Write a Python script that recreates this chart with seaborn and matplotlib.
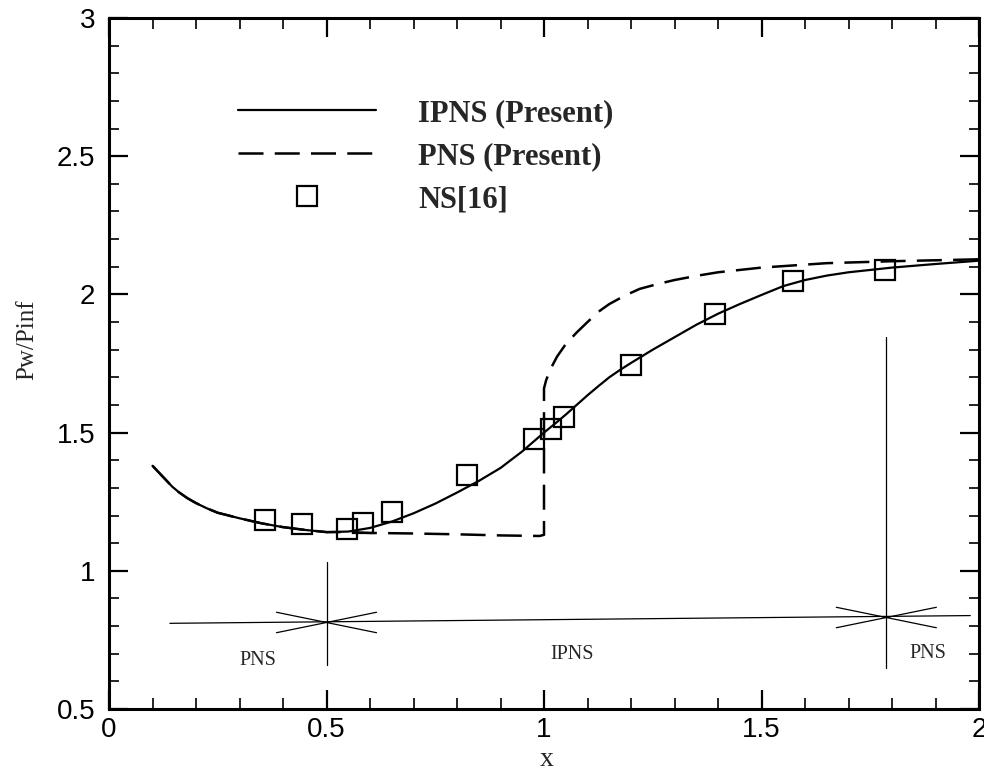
import numpy as np
import pandas as pd
import matplotlib
matplotlib.use("Agg")
import matplotlib.pyplot as plt
import seaborn as sns

# ---------------- data ----------------
ipns_x = [0.10, 0.115, 0.13, 0.145, 0.16, 0.18, 0.20, 0.225, 0.25, 0.30, 0.35, 0.40,
          0.45, 0.50, 0.55, 0.60, 0.65, 0.70, 0.75, 0.80, 0.85, 0.90, 0.95, 1.00,
          1.025, 1.05, 1.075, 1.10, 1.125, 1.15, 1.175, 1.20, 1.25, 1.30, 1.35, 1.40,
          1.45, 1.50, 1.55, 1.60, 1.65, 1.70, 1.80, 1.90, 2.00]
ipns_y = [1.38, 1.355, 1.33, 1.305, 1.285, 1.263, 1.245, 1.226, 1.21, 1.19, 1.172, 1.158,
          1.148, 1.140, 1.142, 1.155, 1.178, 1.208, 1.243, 1.283, 1.325, 1.372, 1.432, 1.50,
          1.532, 1.565, 1.60, 1.635, 1.668, 1.70, 1.727, 1.752, 1.80, 1.845, 1.89, 1.93,
          1.965, 1.998, 2.03, 2.052, 2.068, 2.08, 2.097, 2.11, 2.122]

pns_x = [0.10, 0.115, 0.13, 0.145, 0.16, 0.18, 0.20, 0.225, 0.25, 0.30, 0.35, 0.40,
         0.45, 0.50, 0.55, 0.60, 0.70, 0.80, 0.90, 0.99, 1.00, 1.00, 1.005, 1.015,
         1.03, 1.05, 1.075, 1.10, 1.125, 1.15, 1.185, 1.22, 1.26, 1.30, 1.35, 1.40,
         1.50, 1.65, 1.80, 2.00]
pns_y = [1.38, 1.355, 1.33, 1.305, 1.285, 1.263, 1.245, 1.226, 1.21, 1.19, 1.172, 1.158,
         1.148, 1.140, 1.140, 1.137, 1.135, 1.132, 1.128, 1.126, 1.13, 1.66, 1.69, 1.73,
         1.775, 1.82, 1.862, 1.90, 1.937, 1.965, 1.995, 2.02, 2.037, 2.052, 2.067, 2.08,
         2.097, 2.113, 2.12, 2.127]

ns_x = [0.358, 0.443, 0.546, 0.585, 0.651, 0.823, 0.977, 1.016, 1.046, 1.200, 1.394, 1.573, 1.784]
ns_y = [1.183, 1.169, 1.151, 1.173, 1.212, 1.345, 1.478, 1.514, 1.558, 1.745, 1.928, 2.047, 2.09]

series_labels = ["IPNS (Present)", "PNS (Present)", "NS[16]"]

# region markers (annotation)
region_texts = ["PNS", "IPNS", "PNS"]
region_text_x = [0.342, 1.064, 1.883]
region_text_y = [0.676, 0.698, 0.70]

# ---------------- style ----------------
sns.set_style("ticks")
plt.rcParams["font.family"] = ["Liberation Sans", "DejaVu Sans"]
plt.rcParams.update({
    "xtick.direction": "in", "ytick.direction": "in",
    "xtick.top": True, "ytick.right": True,
    "xtick.major.size": 14, "ytick.major.size": 14,
    "xtick.minor.size": 8, "ytick.minor.size": 7,
    "xtick.major.width": 1.6, "ytick.major.width": 1.6,
    "xtick.minor.width": 1.2, "ytick.minor.width": 1.2,
    "axes.linewidth": 2.2,
    "axes.edgecolor": "black",
    "xtick.color": "black", "ytick.color": "black",
})

fig = plt.figure(figsize=(9.84, 7.74), dpi=100)
ax = fig.add_axes([109/984, 1 - 709/774, 870/984, 691/774])

serif = ["Liberation Serif", "DejaVu Serif"]

sns.lineplot(x=ipns_x, y=ipns_y, ax=ax, color="black", linewidth=1.6,
             estimator=None, sort=False, label=series_labels[0])
sns.lineplot(x=pns_x, y=pns_y, ax=ax, color="black", linewidth=1.8,
             estimator=None, sort=False, label=series_labels[1], dashes=False)
ax.lines[-1].set_dashes((10, 4.5))
sns.lineplot(x=ns_x, y=ns_y, ax=ax, estimator=None, sort=False,
             marker="s", linestyle="none", markersize=14.5,
             markerfacecolor="none", markeredgecolor="black",
             markeredgewidth=1.6, color="black", label=series_labels[2])

# region annotation: horizontal line, vertical separators, arrowheads
ax.plot([0.14, 1.98], [0.81, 0.838], color="black", lw=0.9)
ax.plot([0.5, 0.5], [0.658, 1.032], color="black", lw=0.9)
ax.plot([1.787, 1.787], [0.647, 1.845], color="black", lw=0.9)
for xb, tip_y in [(0.5, 0.813), (1.787, 0.831)]:
    for sgn in (-1, 1):
        ax.plot([xb + sgn * 0.115, xb, xb + sgn * 0.115],
                [tip_y + 0.037, tip_y, tip_y - 0.037], color="black", lw=0.9)

for t, tx, ty in zip(region_texts, region_text_x, region_text_y):
    ax.text(tx, ty, t, ha="center", va="center", fontsize=14.5, family=serif)

ax.set_xlim(0, 2)
ax.set_ylim(0.5, 3)
ax.set_xticks([0, 0.5, 1, 1.5, 2])
ax.set_xticklabels(["0", "0.5", "1", "1.5", "2"])
ax.set_yticks([0.5, 1, 1.5, 2, 2.5, 3])
ax.set_yticklabels(["0.5", "1", "1.5", "2", "2.5", "3"])
ax.set_xticks(np.arange(0, 2.001, 0.1), minor=True)
ax.set_yticks(np.arange(0.5, 3.001, 0.1), minor=True)
ax.tick_params(axis="both", which="major", labelsize=20)
ax.tick_params(axis="x", which="major", pad=6)
ax.tick_params(axis="y", which="major", pad=10)

ax.set_xlabel("x", fontsize=20, family=serif)
ax.set_ylabel("Pw/Pinf", fontsize=18, family=serif)
ax.xaxis.set_label_coords((547 - 109) / 870, (709 - 760) / 691)
ax.xaxis.label.set_va("center")
ax.yaxis.set_label_coords((27 - 109) / 870, (709 - 340) / 691)
ax.yaxis.label.set_va("center")

leg = ax.legend(loc="upper left", bbox_to_anchor=(238 / 984, 1 - 99 / 774),
                bbox_transform=fig.transFigure, frameon=False,
                prop={"family": serif, "weight": "bold", "size": 22},
                handlelength=4.5, handletextpad=1.4, labelspacing=0.46,
                borderpad=0, borderaxespad=0, numpoints=1)

sns.despine(ax=ax, top=False, right=False)
fig.savefig("out.png", dpi=100)
